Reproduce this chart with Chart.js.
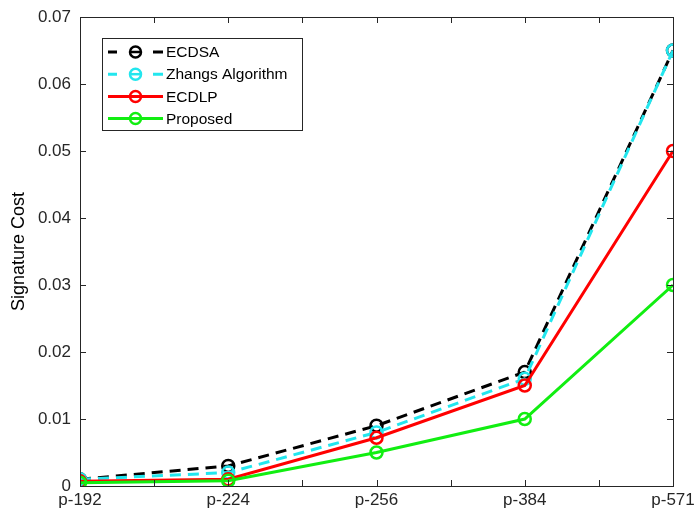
<!DOCTYPE html>
<html>
<head>
<meta charset="utf-8">
<script src="https://cdn.jsdelivr.net/npm/chart.js@4/dist/chart.umd.min.js"></script>
<style>
  html, body { margin: 0; padding: 0; background: #fff; }
  #wrap { width: 694px; height: 514px; }
</style>
</head>
<body>
<div id="wrap"><canvas id="costChart" width="694" height="514"></canvas></div>
<script>
// data
const categories = ['p-192', 'p-224', 'p-256', 'p-384', 'p-571'];
const ecdsa    = [0.001, 0.003, 0.009, 0.017, 0.065];
const zhangs   = [0.001, 0.002, 0.008, 0.016, 0.065];
const ecdlp    = [0.0007, 0.001, 0.0072, 0.015, 0.050];
const proposed = [0.0005, 0.0008, 0.005, 0.010, 0.030];
const yTicks   = [0, 0.01, 0.02, 0.03, 0.04, 0.05, 0.06, 0.07];

const toPoints = arr => arr.map((v, i) => ({ x: i + 1, y: v }));
const axisColor = '#262626';
const fontFamily = '"Liberation Sans", Arial, sans-serif';

// MATLAB-like box with inward ticks
const boxPlugin = {
    id: 'box',
    afterDraw(chart) {
        const { ctx, chartArea: a, scales } = chart;
        ctx.save();
        ctx.strokeStyle = axisColor;
        ctx.lineWidth = 1;
        ctx.strokeRect(a.left + 0.5, a.top + 0.5, a.right - a.left, a.bottom - a.top);
        ctx.beginPath();
        scales.x.ticks.forEach(t => {
            const px = Math.round(scales.x.getPixelForValue(t.value)) + 0.5;
            ctx.moveTo(px, a.bottom); ctx.lineTo(px, a.bottom - 6);
            ctx.moveTo(px, a.top); ctx.lineTo(px, a.top + 6);
        });
        scales.y.ticks.forEach(t => {
            const py = Math.round(scales.y.getPixelForValue(t.value)) + 0.5;
            ctx.moveTo(a.left, py); ctx.lineTo(a.left + 6, py);
            ctx.moveTo(a.right, py); ctx.lineTo(a.right - 6, py);
        });
        ctx.stroke();
        ctx.restore();
    }
};

// legend box in the upper left, like the original
const legendPlugin = {
    id: 'boxLegend',
    afterDraw(chart) {
        const { ctx } = chart;
        const x0 = 102, y0 = 38, w = 200, h = 92, rowH = 22.2;
        ctx.save();
        ctx.fillStyle = '#fff';
        ctx.fillRect(x0, y0, w, h);
        ctx.strokeStyle = axisColor;
        ctx.lineWidth = 1;
        ctx.strokeRect(x0 + 0.5, y0 + 0.5, w, h);
        chart.data.datasets.forEach((ds, i) => {
            const y = y0 + 14 + i * rowH;
            ctx.strokeStyle = ds.borderColor;
            ctx.lineWidth = 3;
            ctx.beginPath();
            if (ds.borderDash) {
                ctx.moveTo(108, y); ctx.lineTo(117, y);
                ctx.moveTo(153, y); ctx.lineTo(163, y);
            } else {
                ctx.moveTo(108, y); ctx.lineTo(163, y);
            }
            ctx.stroke();
            ctx.lineWidth = 2.5;
            ctx.beginPath();
            ctx.arc(135.5, y, 5.5, 0, Math.PI * 2);
            ctx.stroke();
            ctx.beginPath();
            ctx.moveTo(131, y); ctx.lineTo(140, y);
            ctx.stroke();
            ctx.fillStyle = '#000';
            ctx.font = '15.5px ' + fontFamily;
            ctx.textBaseline = 'middle';
            ctx.fillText(ds.label, 166, y + 1);
        });
        ctx.restore();
    }
};

const makeSet = (label, data, color, dash, order) => ({
    label: label,
    data: toPoints(data),
    borderColor: color,
    backgroundColor: 'transparent',
    pointBackgroundColor: 'transparent',
    pointBorderColor: color,
    pointRadius: 6,
    pointBorderWidth: 2.5,
    borderWidth: 3,
    borderDash: dash,
    tension: 0,
    order: order
});

new Chart(document.getElementById('costChart'), {
    type: 'line',
    data: {
        datasets: [
            makeSet('ECDSA', ecdsa, '#000000', [11, 7], 4),
            makeSet('Zhangs Algorithm', zhangs, '#22e6ee', [11, 7], 3),
            makeSet('ECDLP', ecdlp, '#ff0000', undefined, 2),
            makeSet('Proposed', proposed, '#11ee11', undefined, 1)
        ]
    },
    options: {
        responsive: false,
        animation: false,
        layout: { padding: { top: 17, right: 21, left: 0, bottom: 0 } },
        plugins: { legend: { display: false }, tooltip: { enabled: false } },
        scales: {
            x: {
                type: 'linear',
                min: 1,
                max: 5,
                grid: { display: false, drawTicks: false },
                border: { display: false },
                afterFit: s => {
                    s.height = 28;
                    s.paddingLeft = 0;
                    s.paddingRight = 0;
                },
                afterBuildTicks: s => {
                    s.ticks = [];
                    for (let v = 1; v <= 5.001; v += 0.5) s.ticks.push({ value: v });
                },
                ticks: {
                    color: '#262626',
                    font: { size: 17, family: fontFamily },
                    padding: 4,
                    maxRotation: 0,
                    autoSkip: false,
                    callback: v => Number.isInteger(v) ? categories[v - 1] : ''
                }
            },
            y: {
                min: 0,
                max: 0.07,
                grid: { display: false, drawTicks: false },
                border: { display: false },
                afterFit: s => {
                    s.width = 80;
                    s.paddingTop = 0;
                    s.paddingBottom = 0;
                },
                afterBuildTicks: s => { s.ticks = yTicks.map(v => ({ value: v })); },
                title: {
                    display: true,
                    text: 'Signature Cost',
                    color: '#000',
                    font: { size: 18, family: fontFamily },
                    padding: { top: 8, bottom: 0 }
                },
                ticks: {
                    color: '#262626',
                    font: { size: 17, family: fontFamily },
                    padding: 9,
                    callback: v => v === 0 ? '0' : v.toFixed(2)
                }
            }
        }
    },
    plugins: [boxPlugin, legendPlugin]
});
</script>
</body>
</html>
